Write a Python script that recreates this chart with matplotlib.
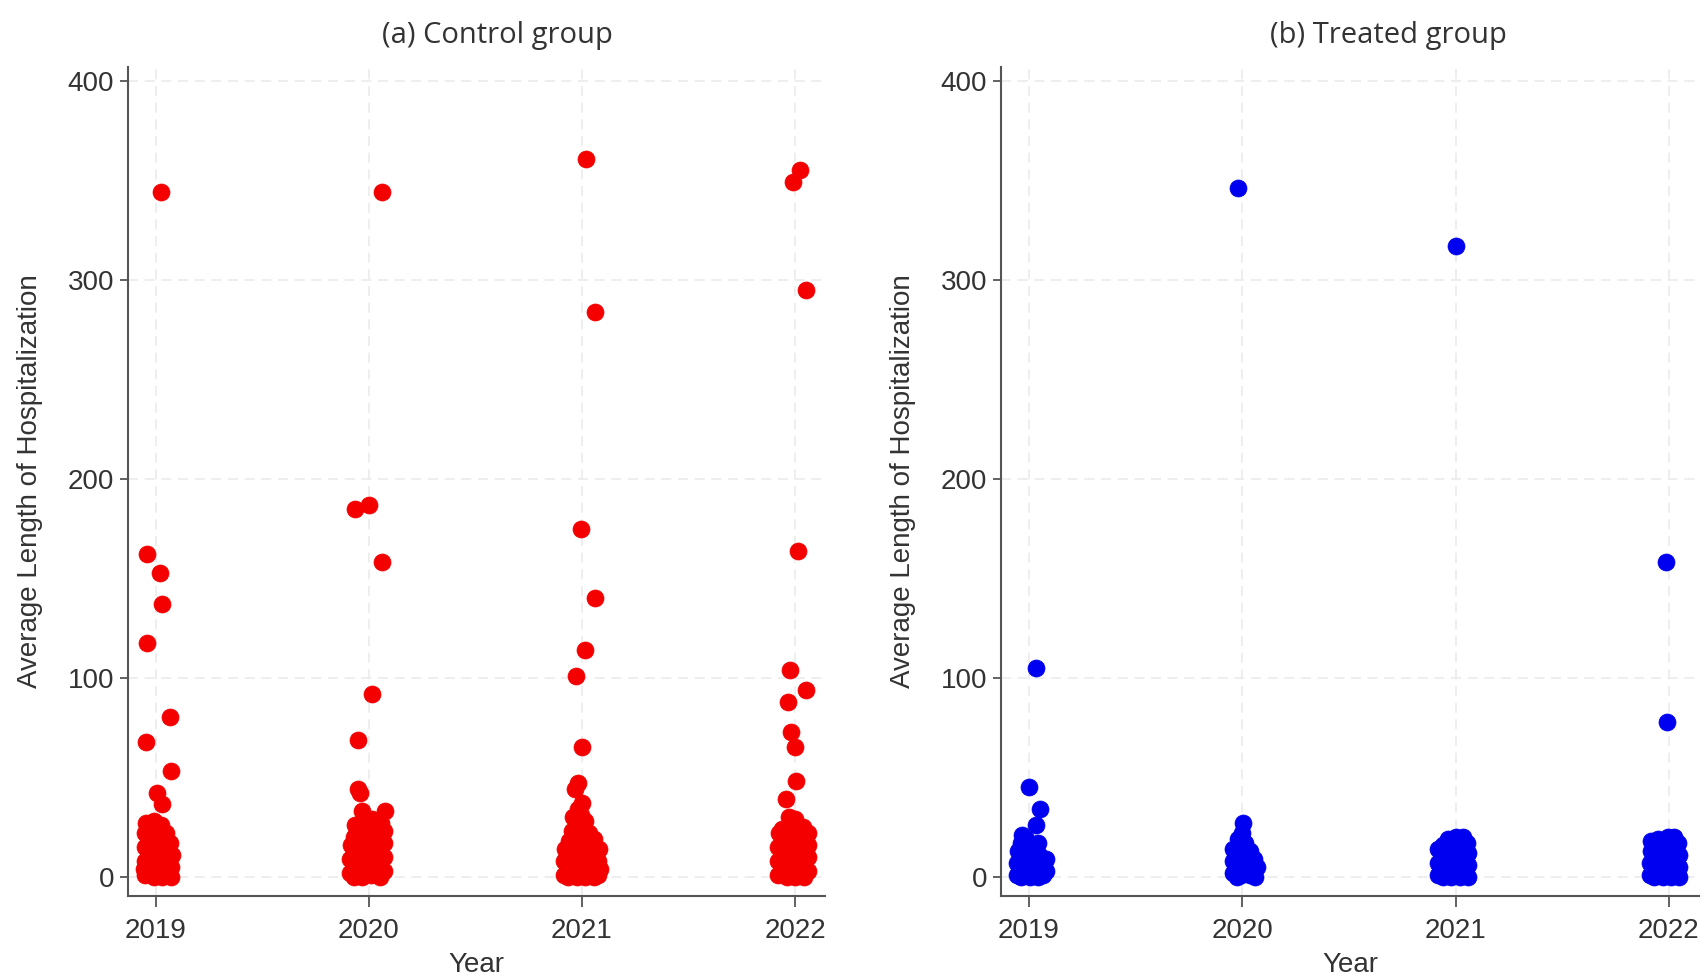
import matplotlib
matplotlib.use('Agg')
import matplotlib.pyplot as plt

years = [2019, 2020, 2021, 2022]
year_labels = ['2019', '2020', '2021', '2022']
y_ticks = [0, 100, 200, 300, 400]

# jitter offsets (years) and average length of hospitalization, per year
ctrl_2019_jit = [0.025, -0.04, 0.02, 0.03, -0.04, 0.065, -0.045, 0.07, 0.005, 0.03,
                 -0.05, -0.05, -0.05, -0.05, -0.045, -0.03, -0.03, -0.03, -0.03,
                 -0.01, -0.01, -0.01, -0.01, -0.01, 0.01, 0.01, 0.01, 0.01,
                 0.03, 0.03, 0.03, 0.03, 0.025, 0.05, 0.05, 0.05, 0.05,
                 0.07, 0.07, 0.075, 0.065, -0.055, 0.0, 0.04]
ctrl_2019_los = [344, 162, 152.5, 137, 117.5, 80.5, 68, 53, 42, 36.5,
                 1, 8, 15, 22, 27, 4, 11, 18, 25,
                 0, 7, 14, 21, 28, 3, 10, 17, 24,
                 0, 6, 13, 20, 26, 2, 9, 16, 22,
                 0, 5, 11, 17, 4, 1, 1]

ctrl_2020_jit = [0.06, -0.065, 0.0, 0.06, 0.015, -0.05, -0.05, -0.04, 0.075, -0.03,
                 -0.09, -0.09, -0.085, -0.07, -0.07, -0.07, -0.07, -0.065,
                 -0.05, -0.05, -0.05, -0.05, -0.03, -0.03, -0.03, -0.03, -0.025,
                 -0.01, -0.01, -0.01, -0.01, 0.01, 0.01, 0.01, 0.01, 0.015,
                 0.03, 0.03, 0.03, 0.03, 0.05, 0.05, 0.05, 0.05, 0.055,
                 0.07, 0.07, 0.07, 0.07]
ctrl_2020_los = [344, 185, 187, 158, 92, 69, 44, 42, 33, 33,
                 2, 9, 16, 0, 6, 13, 20, 26,
                 3, 10, 17, 24, 0, 7, 14, 21, 28,
                 4, 11, 18, 25, 1, 8, 15, 22, 29,
                 4, 11, 18, 24, 0, 7, 14, 21, 27,
                 3, 10, 17, 23]

ctrl_2021_jit = [0.02, 0.06, -0.005, 0.06, 0.015, -0.03, 0.0, -0.02, -0.035,
                 -0.085, -0.085, -0.08, -0.065, -0.065, -0.065, -0.06,
                 -0.045, -0.045, -0.045, -0.045, -0.04,
                 -0.025, -0.025, -0.025, -0.025, -0.025, -0.02,
                 -0.005, -0.005, -0.005, -0.005, -0.005, 0.0,
                 0.015, 0.015, 0.015, 0.015, 0.015,
                 0.035, 0.035, 0.035, 0.035, 0.055, 0.055, 0.055, 0.055,
                 0.075, 0.075, 0.08, 0.085]
ctrl_2021_los = [361, 284, 175, 140, 114, 101, 65, 47, 44,
                 1, 8, 14, 0, 5, 11, 18,
                 2, 9, 16, 23, 30,
                 0, 6, 13, 20, 27, 34,
                 3, 10, 17, 24, 31, 37,
                 0, 7, 14, 21, 28,
                 2, 9, 16, 22, 0, 6, 12, 19,
                 1, 8, 14, 4]

ctrl_2022_jit = [0.025, -0.01, 0.05, 0.015, -0.025, 0.05, -0.035, -0.02, 0.0, 0.005,
                 -0.045, -0.03, 0.0,
                 -0.08, -0.08, -0.08, -0.075, -0.06, -0.06, -0.06, -0.06,
                 -0.04, -0.04, -0.04, -0.04, -0.02, -0.02, -0.02, -0.02,
                 0.0, 0.0, 0.0, 0.0, 0.02, 0.02, 0.02, 0.02,
                 0.04, 0.04, 0.04, 0.04, 0.035, 0.06, 0.06, 0.06, 0.06]
ctrl_2022_los = [355, 349, 295, 164, 104, 94, 88, 73, 65, 48,
                 39, 30, 29,
                 1, 8, 15, 22, 4, 11, 18, 24,
                 0, 7, 14, 21, 3, 10, 17, 24,
                 0, 6, 13, 20, 2, 9, 16, 23,
                 0, 6, 12, 19, 25, 3, 10, 16, 22]

treat_2019_jit = [0.035, 0.0, 0.055, 0.035,
                  -0.055, -0.055, -0.05, -0.035, -0.035, -0.035, -0.035, -0.03,
                  -0.015, -0.015, -0.015, -0.015, 0.005, 0.005, 0.005, 0.005,
                  0.025, 0.025, 0.03, 0.045, 0.045, 0.05, 0.045,
                  0.065, 0.07, 0.08, 0.08]
treat_2019_los = [105, 45, 34, 26,
                  1, 7, 13, 0, 5, 11, 17, 21,
                  2, 8, 14, 19, 0, 5, 11, 16,
                  2, 8, 14, 0, 5, 11, 17,
                  1, 7, 3, 9]

treat_2020_jit = [-0.02,
                  0.005, 0.0, -0.02, 0.015, -0.045, -0.045, -0.045,
                  -0.025, -0.025, -0.025, -0.005, -0.005, -0.005,
                  0.015, 0.015, 0.035, 0.035, 0.035, 0.055, 0.055, 0.07, 0.06]
treat_2020_los = [346,
                  27, 22, 19, 17, 14, 8, 2,
                  11, 5, 0, 13, 7, 1,
                  10, 4, 13, 7, 1, 9, 3, 5, 0]

treat_2021_jit = [0.0,
                  -0.08, -0.08, -0.08, -0.06, -0.06, -0.06, -0.06,
                  -0.04, -0.04, -0.04, -0.035, -0.02, -0.02, -0.02, -0.015,
                  0.0, 0.0, 0.0, 0.0, 0.02, 0.02, 0.02, 0.02,
                  0.04, 0.04, 0.04, 0.035, 0.058, 0.058, 0.058, 0.055]
treat_2021_los = [317,
                  1, 7, 14, 0, 5, 11, 16,
                  2, 8, 14, 19, 0, 5, 11, 17,
                  2, 8, 14, 20, 0, 5, 11, 17,
                  2, 8, 14, 20, 0, 6, 12, 17]

treat_2022_jit = [-0.015, -0.01,
                  -0.088, -0.088, -0.085, -0.085, -0.068, -0.068, -0.068, -0.065,
                  -0.048, -0.048, -0.048, -0.05, -0.028, -0.028, -0.028, -0.028,
                  -0.008, -0.008, -0.008, -0.005, 0.012, 0.012, 0.012, 0.012,
                  0.03, 0.03, 0.03, 0.025, 0.048, 0.048, 0.048, 0.045]
treat_2022_los = [158, 78,
                  1, 7, 13, 18, 0, 5, 11, 17,
                  2, 8, 14, 19, 0, 5, 11, 16,
                  2, 8, 14, 20, 0, 5, 11, 17,
                  2, 8, 14, 20, 0, 5, 11, 17]

ctrl_jit = [ctrl_2019_jit, ctrl_2020_jit, ctrl_2021_jit, ctrl_2022_jit]
ctrl_los = [ctrl_2019_los, ctrl_2020_los, ctrl_2021_los, ctrl_2022_los]
treat_jit = [treat_2019_jit, treat_2020_jit, treat_2021_jit, treat_2022_jit]
treat_los = [treat_2019_los, treat_2020_los, treat_2021_los, treat_2022_los]

label_font = 'Liberation Sans'
title_font = 'Open Sans'


def draw_panel(ax, jits, vals, color, title, title_x):
    for yr, jit, val in zip(years, jits, vals):
        xs = [yr + j for j in jit]
        ax.scatter(xs, val, s=150, color=color, edgecolors=color,
                   linewidths=0.5, zorder=3, clip_on=False)

    ax.set_xlim(2018.87, 2022.14)
    ax.set_ylim(-9.5, 407)
    ax.set_xticks(years)
    ax.set_xticklabels(year_labels, family=label_font, fontsize=20, color='#333333')
    ax.set_yticks(y_ticks)
    ax.set_yticklabels([str(t) for t in y_ticks], family=label_font, fontsize=20,
                       color='#333333')

    # dashed light grid
    ax.grid(True, linestyle=(0, (6, 4)), color='#ebebeb', linewidth=1.2, zorder=0)
    ax.set_axisbelow(True)

    for side in ['top', 'right']:
        ax.spines[side].set_visible(False)
    for side in ['left', 'bottom']:
        ax.spines[side].set_color('#555555')
        ax.spines[side].set_linewidth(1.5)
    ax.tick_params(axis='x', length=8, width=1.3, color='#555555', pad=8)
    ax.tick_params(axis='y', length=6, width=1.3, color='#555555', pad=4)

    ax.set_xlabel('Year', family=label_font, fontsize=20, color='#333333', labelpad=6)
    ax.set_ylabel('Average Length of Hospitalization', family=label_font, fontsize=20,
                  color='#333333', labelpad=18)
    ax.set_title(title, family=title_font, fontsize=21, color='#333333', pad=17,
                 x=title_x)


fig = plt.figure(figsize=(17.03, 9.8), dpi=100)
ax1 = fig.add_axes([0.0752, 0.086, 0.4092, 0.8456])
ax2 = fig.add_axes([0.5878, 0.086, 0.4097, 0.8456])

draw_panel(ax1, ctrl_jit, ctrl_los, '#f50000', '(a) Control group', 0.53)
draw_panel(ax2, treat_jit, treat_los, '#0000f0', '(b) Treated group', 0.555)

fig.savefig('out.png', dpi=100, facecolor='white')
